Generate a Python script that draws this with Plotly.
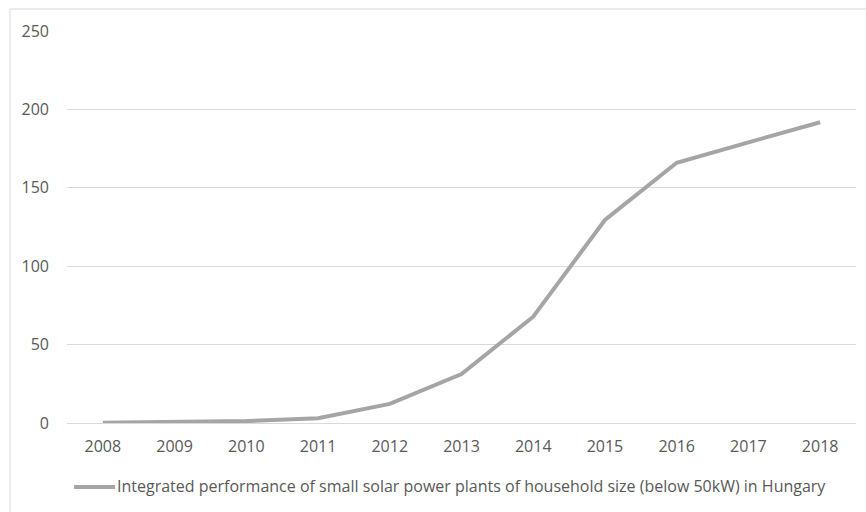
import plotly.graph_objects as go

# Installed capacity of household-size (<50 kW) solar plants in Hungary
years = ["2008", "2009", "2010", "2011", "2012", "2013", "2014", "2015", "2016", "2017", "2018"]
capacity = [0.2, 0.6, 1.2, 3.0, 12.2, 31.2, 67.8, 129.5, 166.0, 179.0, 191.8]
series_name = "Integrated performance of small solar power plants of household size (below 50kW) in Hungary"
y_ticks = [0, 50, 100, 150, 200, 250]

W, H = 866, 512
L, R, T, B = 67, 10, 31, 89
pw, ph = W - L - R, H - T - B

def px_x(x):
    return (x - L) / pw

def px_y(y):
    return (H - B - y) / ph

LINE = "#A5A5A5"
TEXT = "#595959"
GRID = "#D9D9D9"
FONT = "Open Sans"

fig = go.Figure()
fig.add_trace(go.Scatter(
    x=years, y=capacity, name=series_name, mode="lines",
    line=dict(color=LINE, width=4), showlegend=False,
))

# chart frame
fig.add_shape(type="rect", xref="paper", yref="paper",
              x0=px_x(10), x1=px_x(W + 20), y0=px_y(H + 20), y1=px_y(9),
              line=dict(color=GRID, width=1), layer="below")

# legend key
fig.add_shape(type="line", xref="paper", yref="paper",
              x0=px_x(74), x1=px_x(115), y0=px_y(487), y1=px_y(487),
              line=dict(color=LINE, width=4))
fig.add_annotation(xref="paper", yref="paper", x=px_x(115), y=px_y(486),
                   xanchor="left", yanchor="middle", showarrow=False,
                   text=series_name, font=dict(family=FONT, size=16, color=TEXT))

fig.update_layout(
    width=W, height=H,
    margin=dict(l=L, r=R, t=T, b=B),
    paper_bgcolor="white", plot_bgcolor="white",
    font=dict(family=FONT, size=16, color=TEXT),
    xaxis=dict(type="category", range=[-0.5, 10.5], showgrid=False,
               showline=False, ticks="", ticklabelstandoff=12,
               tickfont=dict(family=FONT, size=16, color=TEXT)),
    yaxis=dict(range=[0, 250], tickvals=y_ticks, showgrid=True,
               gridcolor=GRID, gridwidth=1, zeroline=True, zerolinecolor=GRID,
               zerolinewidth=1, showline=False, ticks="", ticklabelstandoff=17,
               tickfont=dict(family=FONT, size=16, color=TEXT)),
)

fig.write_html("out.html")
